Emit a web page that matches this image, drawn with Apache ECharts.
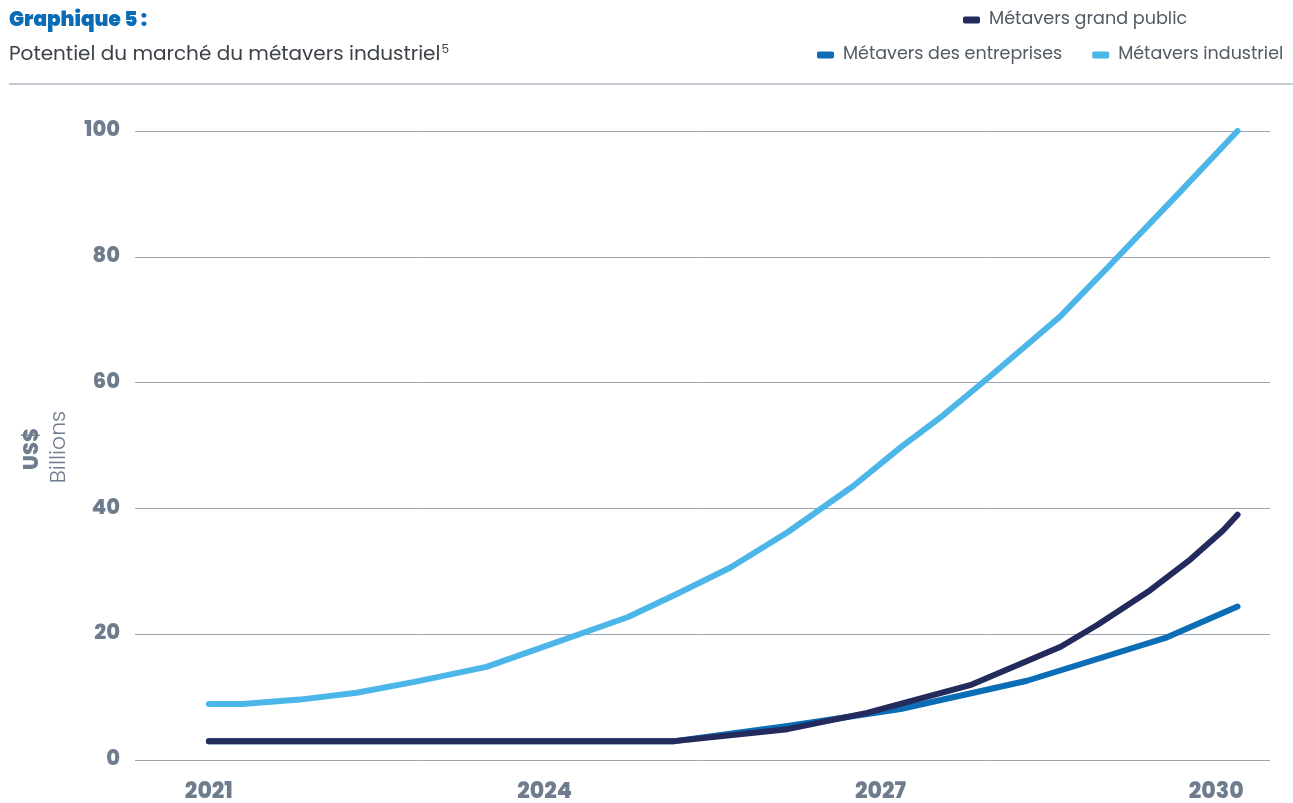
<!DOCTYPE html>
<html>
<head>
<meta charset="utf-8">
<script src="https://cdn.jsdelivr.net/npm/echarts@6/dist/echarts.min.js"></script>
<style>
html,body{margin:0;padding:0;background:#fff;}
#c{width:1293px;height:803px;}
</style>
</head>
<body>
<div id="c"></div>
<script>
// Tick labels
const xTicks = [2021, 2024, 2027, 2030];
const yTicks = [0, 20, 40, 60, 80, 100];
const seriesNames = ['Métavers grand public', 'Métavers des entreprises', 'Métavers industriel'];

// Series values: [year, US$ billions]
const grandPublic = [
  [2021.00, 3.0], [2025.16, 3.0], [2026.17, 4.9], [2026.88, 7.5], [2027.80, 11.9],
  [2028.61, 18.0], [2028.94, 21.5], [2029.41, 27.0], [2029.77, 31.9], [2030.06, 36.5], [2030.19, 39.0]
];
const entreprises = [
  [2021.00, 3.0], [2025.16, 3.0], [2026.17, 5.4], [2027.18, 8.1], [2028.31, 12.6],
  [2029.56, 19.5], [2030.19, 24.4]
];
const industriel = [
  [2021.00, 8.9], [2021.30, 8.9], [2021.81, 9.6], [2022.32, 10.7], [2022.86, 12.5],
  [2023.48, 14.8], [2024.74, 22.7], [2025.18, 26.4], [2025.66, 30.6], [2026.17, 36.2],
  [2026.76, 43.6], [2027.18, 49.7], [2027.56, 54.8], [2027.98, 61.0], [2028.61, 70.6],
  [2029.03, 78.3], [2029.66, 90.0], [2030.19, 100]
];

const colors = ['#232b5d', '#0b6db6', '#4cb6e9'];
const font = 'Poppins, "Open Sans", sans-serif';
const grayText = '#6f7c8d';

const chart = echarts.init(document.getElementById('c'));
chart.setOption({
  animation: false,
  title: [
    { text: 'Graphique 5 :', left: 9, top: 11, padding: 0,
      textStyle: { color: '#0a6cb5', fontFamily: font, fontWeight: 900, fontSize: 20 } },
    { text: 'Potentiel du marché du métavers industriel{sup|5}', left: 9, top: 44, padding: 0,
      textStyle: { color: '#3c4148', fontFamily: font, fontWeight: 'normal', fontSize: 20,
        rich: { sup: { fontSize: 12, verticalAlign: 'top', padding: [0, 0, 10, 1], color: '#3c4148', fontFamily: font } } } }
  ],
  legend: [
    { data: [seriesNames[0]], left: 963, top: 11, padding: 0, icon: 'roundRect', itemWidth: 17, itemHeight: 7,
      textStyle: { color: '#525a64', fontSize: 17.6, fontFamily: font, padding: [0, 0, 0, 4] }, itemGap: 30 },
    { data: [seriesNames[1], seriesNames[2]], left: 817, top: 46, padding: 0, icon: 'roundRect', itemWidth: 17, itemHeight: 7,
      textStyle: { color: '#525a64', fontSize: 17.5, fontFamily: font, padding: [0, 0, 0, 4] }, itemGap: 30 }
  ],
  grid: { left: 135, right: 23, top: 131, bottom: 39, containLabel: false },
  xAxis: {
    type: 'value', min: 2020.34, max: 2030.48,
    axisLine: { show: false }, axisTick: { show: false }, splitLine: { show: false },
    axisLabel: { customValues: xTicks, margin: 21, color: grayText, fontWeight: 800, fontSize: 22, fontFamily: font,
      formatter: v => String(v) }
  },
  yAxis: {
    type: 'value', min: 0, max: 100, interval: 20,
    axisLine: { show: false }, axisTick: { show: false },
    splitLine: { lineStyle: { color: '#9da5b0', width: 1 } },
    axisLabel: { margin: 15, color: grayText, fontWeight: 800, fontSize: 21, fontFamily: font }
  },
  graphic: [
    { type: 'line', shape: { x1: 9, y1: 84, x2: 1293, y2: 84 }, style: { stroke: '#b3bac4', lineWidth: 1.5 } },
    { type: 'text', x: 33, y: 449, rotation: Math.PI / 2,
      style: { text: 'US$', fill: grayText, font: '800 21px ' + font, align: 'center', verticalAlign: 'middle' } },
    { type: 'text', x: 59, y: 447, rotation: Math.PI / 2,
      style: { text: 'Billions', fill: grayText, font: '300 22px ' + font, align: 'center', verticalAlign: 'middle' } }
  ],
  series: [
    { name: seriesNames[1], type: 'line', data: entreprises, showSymbol: false, z: 2,
      itemStyle: { color: colors[1] }, lineStyle: { color: colors[1], width: 6, cap: 'round', join: 'round' } },
    { name: seriesNames[2], type: 'line', data: industriel, showSymbol: false, z: 2,
      itemStyle: { color: colors[2] }, lineStyle: { color: colors[2], width: 6, cap: 'round', join: 'round' } },
    { name: seriesNames[0], type: 'line', data: grandPublic, showSymbol: false, z: 3,
      itemStyle: { color: colors[0] }, lineStyle: { color: colors[0], width: 6, cap: 'round', join: 'round' } }
  ]
});
</script>
</body>
</html>
